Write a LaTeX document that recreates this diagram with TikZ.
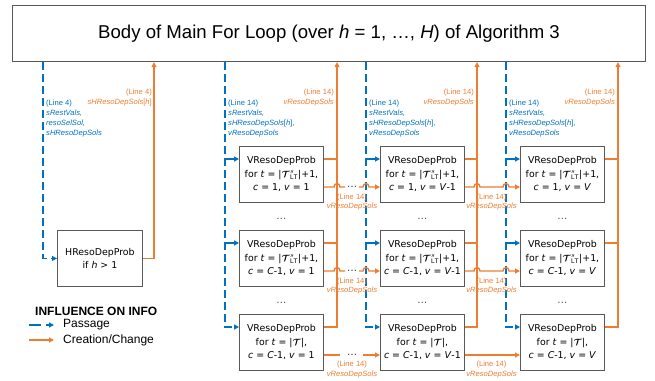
\documentclass[tikz,border=0pt]{standalone}
\usepackage{fontspec}
\setmainfont{Liberation Sans}
\newfontfamily\boxfont{DejaVu Sans}
\usepackage{bm}
\usetikzlibrary{arrows.meta,calc}
\definecolor{pblue}{RGB}{0,112,192}
\definecolor{porange}{RGB}{237,125,49}
\definecolor{pgray}{RGB}{89,89,89}
\newcommand\TLT{$\bm{\mathcal{T}}$\smash{$_{\mathrm{LT}}^{s}$}}
\newcommand\Tall{$\bm{\mathcal{T}}$}
\newcommand\hopat[1]{-- ($#1+(-3,0)$) .. controls ($#1+(-3,-4.5)$) and ($#1+(3,-4.5)$) .. ($#1+(3,0)$)}
\begin{document}
\begin{tikzpicture}[x=1pt,y=-1pt,
  probbox/.style={draw=pgray,line width=0.9pt,minimum width=84pt,minimum height=56pt,inner sep=0pt,align=center,
     font=\boxfont\fontsize{9.4}{13.5}\selectfont,anchor=north west},
  pass/.style={pblue,line width=1.4pt,dash pattern=on 8pt off 4pt},
  passarr/.style={pblue,line width=1.4pt,-{Triangle[length=5pt,width=5pt]}},
  cre/.style={porange,line width=1.4pt},
  crearr/.style={porange,line width=1.4pt,-{Triangle[length=5pt,width=5pt]}},
  olab/.style={porange,font=\fontsize{7.6}{9.5}\selectfont,align=right,inner sep=0pt,anchor=north east},
  blab/.style={pblue,font=\fontsize{7.6}{10}\selectfont,align=left,inner sep=0pt,anchor=north west},
  llab/.style={porange,font=\fontsize{7.6}{9.5}\selectfont,align=center,inner sep=0pt,anchor=north},
  dotsty/.style={font=\boxfont\fontsize{10}{12}\selectfont,inner sep=0pt,text=black!70},
  odots/.style={font=\boxfont\fontsize{10}{12}\selectfont,inner sep=0pt,text=black!80},
]
\useasboundingbox (0,0) rectangle (655,380);

% top box
\node[draw=pgray,line width=1.1pt,minimum width=633pt,minimum height=56pt,anchor=north west,inner sep=0pt,
  font=\fontsize{18.6}{22}\selectfont] (top) at (12,5)
  {Body of Main For Loop (over \textit{h} = 1, …, \textit{H}) of Algorithm 3};

% x positions of vertical lines
\foreach \n/\x in {B0/43,O0/154,B1/225,O1/337,B2/366,O2/477,B3/506,O3/618}
  \coordinate (\n) at (\x,0);

% HReso box
\node[probbox,minimum width=85pt] (h) at (57,230) {HResoDepProb\\if \textit{h} > 1};
\draw[pass,-{Triangle[length=5pt,width=5pt]}] (B0 |- top.south) |- (h.west);
\draw[crearr] (h.east) -| (O0 |- top.south);
\node[olab] (ho) at (152,89) {(Line 4)\\\textit{sHResoDepSols}[\textit{h}]};
\node[blab] (hb) at (46,100) {(Line 4)\\\textit{sRestVals,}\\\textit{resoSelSol,}\\\textit{sHResoDepSols}};

% V boxes
\foreach \c/\x/\vv in {1/239/1,2/380/{\textit{V}-1},3/520/\textit{V}}{
  \node[probbox] (b\c1) at (\x,146) {VResoDepProb\\for \textit{t} = |\TLT|+1,\\\textit{c} = 1, \textit{v} = \vv};
  \node[probbox] (b\c2) at (\x,230) {VResoDepProb\\for \textit{t} = |\TLT|+1,\\\textit{c} = \textit{C}-1, \textit{v} = \vv};
  \node[probbox] (b\c3) at (\x,314) {VResoDepProb\\for \textit{t} = |\Tall|,\\\textit{c} = \textit{C}-1, \textit{v} = \vv};
  \node[dotsty] (da\c) at ($(b\c1.south)!0.5!(b\c2.north)+(0,2.5)$) {…};
  \node[dotsty] (db\c) at ($(b\c2.south)!0.5!(b\c3.north)+(0,2.5)$) {…};
  \coordinate (i\c1) at ($(b\c1.north west)+(0,13)$);
  \coordinate (i\c2) at ($(b\c2.north west)+(0,13)$);
  \coordinate (i\c3) at ($(b\c3.north west)+(0,13)$);
  \coordinate (u\c1) at ($(b\c1.north east)+(0,13)$);
  \coordinate (u\c2) at ($(b\c2.north east)+(0,13)$);
  \coordinate (u\c3) at ($(b\c3.north east)+(0,13)$);
  \coordinate (l\c1) at ($(b\c1.north east)+(0,41)$);
  \coordinate (l\c2) at ($(b\c2.north east)+(0,41)$);
  \coordinate (l\c3) at ($(b\c3.north east)+(0,41)$);
  % passage (blue)
  \draw[pass,-{Triangle[length=5pt,width=5pt]}] (B\c |- top.south) |- (i\c3);
  \draw[passarr] (B\c |- i\c1) -- (i\c1);
  \draw[passarr] (B\c |- i\c2) -- (i\c2);
  % creation (orange) upward
  \draw[cre] (u\c1) -- (O\c |- u\c1);
  \draw[cre] (u\c2) -- (O\c |- u\c2);
  \draw[crearr] (u\c3) -| (O\c |- top.south);
  \node[olab] (to\c) at ($(O\c)+(-3,89)$) {(Line 14)\\\textit{vResoDepSols}};
  \node[blab] (tb\c) at ($(B\c)+(3,100)$) {(Line 14)\\\textit{sRestVals,}\\\textit{sHResoDepSols}[\textit{h}],\\\textit{vResoDepSols}};
}

% lower creation lines column 1 -> column 2 -> column 3
\foreach \r in {1,2}{
  \draw[cre] (l1\r) \hopat{(O1 |- l1\r)} -- ($(O1 |- l1\r)+(8,0)$);
  \node[odots] (m1\r) at ($(O1 |- l1\r)+(15,0)$) {…};
  \draw[crearr] ($(B2 |- l1\r)+(-7,0)$) \hopat{(B2 |- l1\r)} -- (b2\r.west |- l1\r);
  \node[llab] (n1\r) at ($(O1 |- l1\r)+(15,6.5)$) {(Line 14)\\\textit{vResoDepSols}};
  \draw[crearr] (l2\r) \hopat{(O2 |- l2\r)} \hopat{(B3 |- l2\r)} -- (b3\r.west |- l2\r);
  \node[llab] (n2\r) at ($(O2 |- l2\r)+(14.5,6.5)$) {(Line 14)\\\textit{vResoDepSols}};
}
\draw[cre] (l13) -- ($(O1 |- l13)+(3,0)$);
\node[odots] (m13) at ($(O1 |- l13)+(15,0)$) {…};
\draw[crearr] ($(B2 |- l13)+(-3,0)$) -- (b23.west |- l13);
\node[llab] (n13) at ($(O1 |- l13)+(15,6)$) {(Line 14)\\\textit{vResoDepSols}};
\draw[crearr] (l23) -- (b33.west |- l23);
\node[llab] (n23) at ($(O2 |- l23)+(14.5,6)$) {(Line 14)\\\textit{vResoDepSols}};

% legend
\node[anchor=west,inner sep=0pt,font=\bfseries\fontsize{12}{14}\selectfont] (legt) at (35,311) {INFLUENCE ON INFO};
\node[anchor=west,inner sep=0pt,font=\fontsize{12}{14}\selectfont] (legp) at (63,325) {Passage};
\node[anchor=west,inner sep=0pt,font=\fontsize{12}{14}\selectfont] (legc) at (63,340) {Creation/Change};
\coordinate (lp0) at (29,325);
\coordinate (lp1) at (54,325);
\coordinate (lc0) at (29,340);
\coordinate (lc1) at (54,340);
\draw[pblue,line width=1.4pt,dash pattern=on 12pt off 5pt,-{Triangle[length=5pt,width=5pt]}] (lp0) -- (lp1);
\draw[crearr] (lc0) -- (lc1);
\end{tikzpicture}
\end{document}
